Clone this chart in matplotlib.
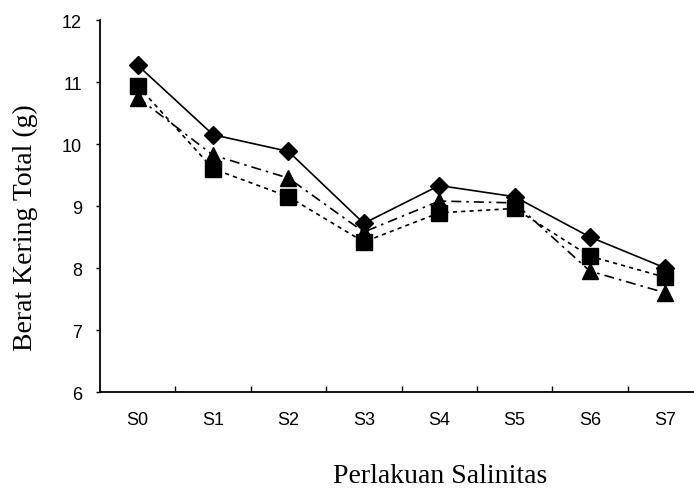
import numpy as np
import matplotlib.pyplot as plt

kategori = ['S0', 'S1', 'S2', 'S3', 'S4', 'S5', 'S6', 'S7']
seri_belah_ketupat = [11.27, 10.15, 9.88, 8.72, 9.33, 9.15, 8.50, 8.00]
seri_kotak = [10.94, 9.60, 9.15, 8.42, 8.89, 8.96, 8.19, 7.85]
seri_segitiga = [10.75, 9.82, 9.45, 8.58, 9.08, 9.05, 7.95, 7.60]

fig = plt.figure(figsize=(6.94, 4.89), dpi=100)
ax = fig.add_axes([100/694, 96/489, 603/694, 372/489])

x = np.arange(len(kategori))
ax.plot(x, seri_belah_ketupat, color='black', linestyle='-', linewidth=1.2,
        marker='D', markersize=9.5, zorder=3)
ax.plot(x, seri_kotak, color='black', linestyle=(0, (2.5, 2.5)), linewidth=1.2,
        marker='s', markersize=11.5, zorder=3)
ax.plot(x, seri_segitiga, color='black', linestyle=(0, (6, 3, 1.5, 3)), linewidth=1.2,
        marker='^', markersize=11.5, zorder=3)

ax.set_xlim(-0.5, 7.5)
ax.set_ylim(6, 12)
ax.set_yticks(range(6, 13))
ax.set_xticks(x)
ax.set_xticklabels(kategori, family='Liberation Sans', fontsize=13)
for lbl in ax.get_yticklabels():
    lbl.set_family('Liberation Sans')
    lbl.set_fontsize(13)
# garis tick sumbu x berada di antara kategori
ax.set_xticks(np.arange(0.5, 7.5, 1), minor=True)
ax.tick_params(axis='x', which='major', length=0, pad=14)
ax.tick_params(axis='x', which='minor', direction='in', length=4, width=1)
ax.tick_params(axis='y', direction='out', length=3, width=1, pad=10)

for s in ['top', 'right']:
    ax.spines[s].set_visible(False)
ax.spines['left'].set_linewidth(1.3)
ax.spines['bottom'].set_linewidth(1.3)

fig.text(440/694, 1 - 483/489, 'Perlakuan Salinitas', family='Liberation Serif',
         fontsize=20, ha='center', va='baseline')
fig.text(25/694, 1 - 228/489, 'Berat Kering Total (g)', family='Liberation Serif',
         fontsize=20, ha='center', va='center', rotation=90)

fig.savefig('out.png', dpi=100)
